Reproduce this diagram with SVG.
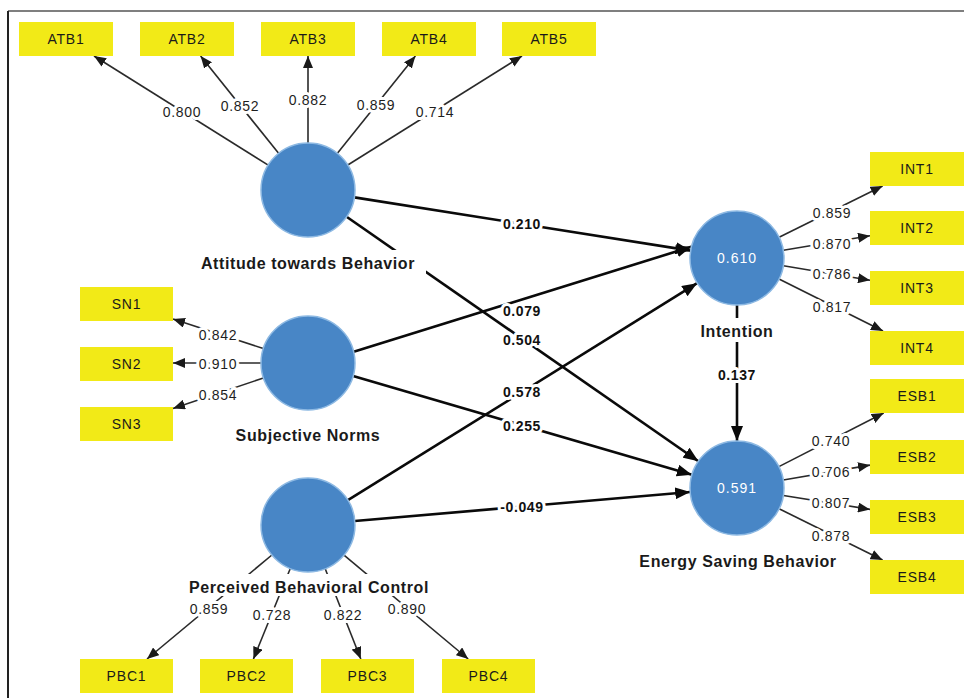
<svg xmlns="http://www.w3.org/2000/svg" width="964" height="698" viewBox="0 0 964 698">
<defs>
<marker id="am" viewBox="0 0 12 10" refX="12" refY="5" markerWidth="12" markerHeight="10" markerUnits="userSpaceOnUse" orient="auto"><path d="M0,0 L12,5 L0,10 z" fill="#1a1a1a"/></marker>
<marker id="as" viewBox="0 0 15 12" refX="15" refY="6" markerWidth="15" markerHeight="12" markerUnits="userSpaceOnUse" orient="auto"><path d="M0,0 L15,6 L0,12 z" fill="#0a0a0a"/></marker>
<style>
.box{fill:#F2EA17}
.bt{font-family:"Liberation Sans",Arial,sans-serif;font-size:14px;fill:#1a1a1a;text-anchor:middle;letter-spacing:0.8px}
.lv{fill:#4886C6;stroke:#8DB9E3;stroke-width:1.5}
.nl{font-family:"Liberation Sans",Arial,sans-serif;font-size:16px;font-weight:bold;fill:#1a1a1a;text-anchor:middle;letter-spacing:0.6px}
.r2{font-family:"Liberation Sans",Arial,sans-serif;font-size:14px;fill:#ffffff;text-anchor:middle;letter-spacing:1px}
.ml{stroke:#2a2a2a;stroke-width:1.6;fill:none;marker-end:url(#am)}
.sl{stroke:#0a0a0a;stroke-width:2.6;fill:none;marker-end:url(#as)}
.ld{font-family:"Liberation Sans",Arial,sans-serif;font-size:14px;fill:#1e1e1e;text-anchor:middle;letter-spacing:0.7px;stroke:#fff;stroke-width:6;paint-order:stroke;stroke-linejoin:round}
.pc{font-family:"Liberation Sans",Arial,sans-serif;font-size:14px;font-weight:bold;fill:#111;text-anchor:middle;letter-spacing:0.6px;stroke:#fff;stroke-width:6;paint-order:stroke;stroke-linejoin:round}
.bg{fill:#fff}
</style>
</defs>
<rect x="0" y="0" width="964" height="698" fill="#fff"/>
<g id="frame">
<line x1="8" y1="11" x2="964" y2="11" stroke="#555" stroke-width="1.5"/>
<line x1="8" y1="11" x2="8" y2="698" stroke="#222" stroke-width="2"/>
</g>
<g id="connectors">
<line class="ml" x1="268.2" y1="165.1" x2="94" y2="56"/>
<line class="ml" x1="278.6" y1="153.3" x2="200.6" y2="56"/>
<line class="ml" x1="308" y1="143" x2="308" y2="56"/>
<line class="ml" x1="337.4" y1="153.3" x2="415.4" y2="56" stroke="#666"/>
<line class="ml" x1="347.8" y1="165" x2="522" y2="56"/>
<line class="ml" x1="263.3" y1="348.5" x2="173" y2="319.1"/>
<line class="ml" x1="261" y1="363" x2="173" y2="363"/>
<line class="ml" x1="263.4" y1="378" x2="173" y2="408.4"/>
<line class="ml" x1="271.9" y1="555" x2="147" y2="659"/>
<line class="ml" x1="290.3" y1="568.5" x2="253.4" y2="659"/>
<line class="ml" x1="325.2" y1="568.7" x2="360.8" y2="659"/>
<line class="ml" x1="344" y1="555.2" x2="468.2" y2="659"/>
<line class="ml" x1="779.1" y1="237.2" x2="882.6" y2="186"/>
<line class="ml" x1="783.4" y1="250.3" x2="870" y2="235.8"/>
<line class="ml" x1="783.4" y1="265.7" x2="870" y2="280.2"/>
<line class="ml" x1="779" y1="279" x2="883" y2="331"/>
<line class="ml" x1="778.9" y1="466.6" x2="883.7" y2="413"/>
<line class="ml" x1="783.3" y1="480" x2="870" y2="465.1"/>
<line class="ml" x1="783.4" y1="495.5" x2="870" y2="509.4"/>
<line class="ml" x1="779.1" y1="508.8" x2="882.6" y2="560"/>
<line class="sl" x1="354.4" y1="197.4" x2="690.6" y2="250.6"/>
<line class="sl" x1="353.7" y1="351.8" x2="691.3" y2="246.8"/>
<line class="sl" x1="346.6" y1="216.8" x2="698.4" y2="461.2"/>
<line class="sl" x1="347.9" y1="500.2" x2="697.1" y2="283.2"/>
<line class="sl" x1="353.1" y1="376.1" x2="691.9" y2="474.8"/>
<line class="sl" x1="354.8" y1="521" x2="690.2" y2="492"/>
<line class="sl" x1="737" y1="305" x2="737" y2="441"/>
<text class="ld" x="182" y="117">0.800</text>
<text class="ld" x="240" y="111">0.852</text>
<text class="ld" x="308" y="105">0.882</text>
<text class="ld" x="376" y="110">0.859</text>
<text class="ld" x="435" y="117">0.714</text>
<text class="ld" x="218" y="340">0.842</text>
<text class="ld" x="218" y="369">0.910</text>
<text class="ld" x="218" y="400">0.854</text>
<text class="ld" x="209" y="614">0.859</text>
<text class="ld" x="272" y="620">0.728</text>
<text class="ld" x="343" y="620">0.822</text>
<text class="ld" x="407" y="614">0.890</text>
<text class="ld" x="832" y="218">0.859</text>
<text class="ld" x="832" y="249">0.870</text>
<text class="ld" x="832" y="279">0.786</text>
<text class="ld" x="832" y="312">0.817</text>
<text class="ld" x="831" y="446">0.740</text>
<text class="ld" x="831" y="477">0.706</text>
<text class="ld" x="831" y="508">0.807</text>
<text class="ld" x="831" y="541">0.878</text>
<text class="pc" x="522" y="229">0.210</text>
<text class="pc" x="522" y="316">0.079</text>
<text class="pc" x="522" y="345">0.504</text>
<text class="pc" x="522" y="397">0.578</text>
<text class="pc" x="522" y="431">0.255</text>
<text class="pc" x="522" y="512">-0.049</text>
<text class="pc" x="737" y="380">0.137</text>
</g>
<g id="ATB">
<circle class="lv" cx="308" cy="190" r="47"/>
<rect class="bg" x="196" y="250" width="230" height="26"/>
<text class="nl" x="308" y="269">Attitude towards Behavior</text>
</g>
<g id="SN">
<circle class="lv" cx="308" cy="363" r="47"/>
<text class="nl" x="308" y="441">Subjective Norms</text>
</g>
<g id="PBC">
<circle class="lv" cx="308" cy="525" r="47"/>
<rect class="bg" x="184" y="574" width="250" height="22"/>
<text class="nl" x="309" y="593">Perceived Behavioral Control</text>
</g>
<g id="INT">
<circle class="lv" cx="737" cy="258" r="47"/>
<text class="r2" x="737" y="263">0.610</text>
<rect class="bg" x="695" y="318" width="84" height="24"/>
<text class="nl" x="737" y="337">Intention</text>
</g>
<g id="ESB">
<circle class="lv" cx="737" cy="488" r="47"/>
<text class="r2" x="737" y="493">0.591</text>
<text class="nl" x="738" y="567">Energy Saving Behavior</text>
</g>
<g id="ATB1"><rect class="box" x="19" y="22" width="94" height="34"/><text class="bt" x="66" y="44">ATB1</text></g>
<g id="ATB2"><rect class="box" x="140" y="22" width="94" height="34"/><text class="bt" x="187" y="44">ATB2</text></g>
<g id="ATB3"><rect class="box" x="261" y="22" width="94" height="34"/><text class="bt" x="308" y="44">ATB3</text></g>
<g id="ATB4"><rect class="box" x="382" y="22" width="94" height="34"/><text class="bt" x="429" y="44">ATB4</text></g>
<g id="ATB5"><rect class="box" x="502" y="22" width="94" height="34"/><text class="bt" x="549" y="44">ATB5</text></g>
<g id="SN1"><rect class="box" x="80" y="287" width="93" height="34"/><text class="bt" x="126.5" y="309">SN1</text></g>
<g id="SN2"><rect class="box" x="80" y="347" width="93" height="34"/><text class="bt" x="126.5" y="369">SN2</text></g>
<g id="SN3"><rect class="box" x="80" y="407" width="93" height="34"/><text class="bt" x="126.5" y="429">SN3</text></g>
<g id="PBC1"><rect class="box" x="80" y="659" width="93" height="34"/><text class="bt" x="126.5" y="681">PBC1</text></g>
<g id="PBC2"><rect class="box" x="200" y="659" width="93" height="34"/><text class="bt" x="246.5" y="681">PBC2</text></g>
<g id="PBC3"><rect class="box" x="321" y="659" width="93" height="34"/><text class="bt" x="367.5" y="681">PBC3</text></g>
<g id="PBC4"><rect class="box" x="442" y="659" width="93" height="34"/><text class="bt" x="488.5" y="681">PBC4</text></g>
<g id="INT1"><rect class="box" x="870" y="152" width="94" height="34"/><text class="bt" x="917" y="174">INT1</text></g>
<g id="INT2"><rect class="box" x="870" y="211" width="94" height="34"/><text class="bt" x="917" y="233">INT2</text></g>
<g id="INT3"><rect class="box" x="870" y="271" width="94" height="34"/><text class="bt" x="917" y="293">INT3</text></g>
<g id="INT4"><rect class="box" x="870" y="331" width="94" height="34"/><text class="bt" x="917" y="353">INT4</text></g>
<g id="ESB1"><rect class="box" x="870" y="379" width="94" height="34"/><text class="bt" x="917" y="401">ESB1</text></g>
<g id="ESB2"><rect class="box" x="870" y="440" width="94" height="34"/><text class="bt" x="917" y="462">ESB2</text></g>
<g id="ESB3"><rect class="box" x="870" y="500" width="94" height="34"/><text class="bt" x="917" y="522">ESB3</text></g>
<g id="ESB4"><rect class="box" x="870" y="560" width="94" height="34"/><text class="bt" x="917" y="582">ESB4</text></g>
</svg>
